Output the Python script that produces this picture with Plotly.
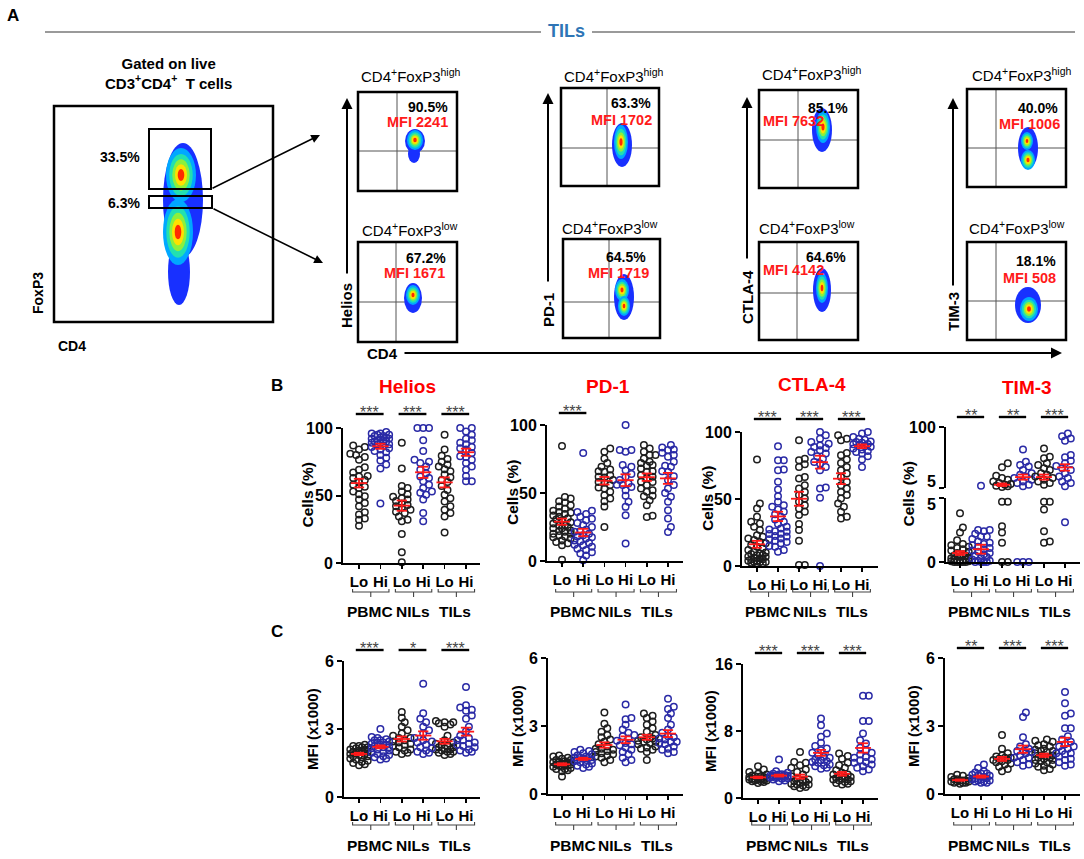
import numpy as np
import plotly.graph_objects as go

W, H = 1084, 859
FONT = "Arial, 'Liberation Sans', sans-serif"
RED = "#ff1a1a"
BLUE_DOT = "#2a2aa6"
BLACK_DOT = "#1e1e1e"

def fx(x):
    return x / W

def fy(y):
    return 1 - y / H

# ---------------- data ----------------
categories = ["Lo", "Hi", "Lo", "Hi", "Lo", "Hi"]
sites = ["PBMC", "NILs", "TILs"]
markers = ["Helios", "PD-1", "CTLA-4", "TIM-3"]

# Panel B: Cells (%), order = PBMC Lo, PBMC Hi, NILs Lo, NILs Hi, TILs Lo, TILs Hi
helios_pct = [
    [87, 86, 84, 81, 80, 78.5, 76.5, 71, 69, 67, 64.5, 64, 63, 61.5, 60, 58, 56.5, 55.5, 53, 51, 49.5, 47, 44.5, 42, 37.5, 36, 33, 32, 27.5],
    [97, 96, 96, 95, 95, 94, 94, 93, 93, 92, 92, 91, 91, 90, 90, 89, 89, 88, 88, 87, 86, 85, 84, 83, 82, 80, 78, 76, 73, 70, 44],
    [89, 70, 57, 55.5, 53, 51, 49, 48, 47, 46, 44, 43, 42, 41, 39.5, 38, 37, 34.5, 32, 31, 21.5, 8, 0.5],
    [100, 100, 100, 91, 83, 76.5, 75, 74, 71.5, 69, 66.5, 64, 63, 60.5, 58, 55.5, 53, 52, 50.5, 47, 37, 31],
    [95, 84, 79.5, 77, 75, 73, 71.5, 69.5, 68, 65.5, 63.5, 61.5, 60, 57, 54, 50.5, 48, 45.5, 42, 39.5, 37, 34.5, 22.5],
    [100, 100, 97.5, 95, 92, 91, 89, 88, 86, 85, 84, 81.5, 79, 78.5, 76.5, 74, 71.5, 69, 64.5, 60.5, 60.5],
]
pd1_pct = [
    [84.5, 47, 46, 44, 43, 41, 40, 38.5, 37, 36, 35.5, 34.5, 33.5, 32.5, 31.5, 30.5, 30, 28.5, 27.5, 26.5, 26, 25, 24, 24, 22.5, 22, 21.5, 20, 20, 19, 18, 17.5, 16.5, 15, 14, 13, 11.5, 1],
    [79.5, 37, 36, 34.5, 32.5, 31, 30, 28, 26.5, 25, 23, 22, 21.5, 20, 19, 18, 17.5, 16.5, 15, 14.5, 13.5, 12, 11.5, 10.5, 9, 8, 6.5, 5.5, 4, 0.5],
    [82.8, 80.3, 75.4, 72, 69.3, 67.3, 66, 65.6, 63.1, 62, 61.4, 59.5, 58, 57.5, 55.8, 54, 53.3, 50.9, 48.4, 46, 44, 40, 25],
    [100, 81.6, 81.6, 80.3, 70.5, 69.3, 66.8, 64, 62, 59.5, 57, 56, 55.8, 54.5, 52, 48, 43.5, 39.8, 33.7, 12.8],
    [85.3, 82.8, 80.3, 78, 78, 75.4, 73, 72, 70.5, 70, 68, 66, 65.6, 63, 62, 60.7, 58.2, 58, 55.8, 53.3, 52, 50.9, 48, 47.7, 44.7, 41, 33.2, 32.4],
    [85.3, 83.5, 82, 81.6, 79.6, 78, 76.7, 73, 70, 69.3, 66, 65.6, 62.4, 59.5, 55.8, 53.3, 50, 47.2, 43.5, 37.3, 31.2, 25, 21.4],
]
ctla4_pct = [
    [79.4, 46.7, 43, 36.7, 33, 31.8, 29.3, 26.8, 23, 21.8, 20.6, 19.4, 18, 16.9, 15.6, 14.4, 13.2, 11.9, 10.7, 10, 9.4, 9, 8.2, 8, 7, 6.9, 6, 5.7, 5, 5, 4, 4, 3.2, 3, 3, 2.5, 2, 2],
    [89.3, 78.9, 78.9, 72, 71.5, 62.8, 57, 52, 47.9, 45.4, 44.2, 42.2, 40.4, 38.7, 36.7, 34.7, 33, 31.3, 29.3, 28, 27.3, 26, 25.6, 24, 23.8, 22.3, 22, 20.6, 20, 18.9, 18, 16.9, 15, 14.4, 12, 10.7],
    [93.8, 80.1, 78.9, 75.9, 73.9, 66.5, 65.3, 60.3, 57.8, 55.3, 52.9, 50.4, 47.9, 45.4, 42.9, 40.4, 38, 31.3, 26.8, 18.9, 0.7, 0.7],
    [100, 97.5, 95, 92.6, 91.3, 90, 88.8, 88, 86.4, 85, 83.9, 81.9, 80.1, 77.7, 76.4, 73.9, 71.5, 58.6, 57.8, 50.9, 0],
    [97.5, 95, 93.8, 84.4, 82.6, 79.4, 76.9, 73.9, 71.5, 69, 66.5, 62.8, 60.3, 57.8, 55.3, 52.9, 50.4, 46.7, 44.2, 40.4, 36.7, 35.5],
    [100, 98.8, 96.3, 95, 94.3, 93, 92.6, 92, 91, 90.8, 90, 89.3, 89, 87.6, 87, 85.9, 85, 83.9, 81.9, 79.4, 73.9],
]
tim3_pct = [
    [3.8, 2.7, 2.3, 1.7, 1.4, 1.3, 1.2, 1.1, 1.0, 0.9, 0.8, 0.7, 0.6, 0.5, 0.5, 0.4, 0.3, 0.3, 0.2, 0.2, 0.1, 0.1, 0.1, 0.05, 0.05, 0, 0, 0, 0, 0],
    [8.6, 2.5, 2.5, 2.4, 2.2, 2.0, 2.0, 1.8, 1.6, 1.5, 1.4, 1.3, 1.2, 1.1, 1.0, 0.9, 0.8, 0.7, 0.6, 0.5, 0.4, 0.3, 0.2, 0.1, 0.1, 0, 0, 0, 0],
    [43.5, 37.4, 24, 20.4, 17.8, 15.3, 12.7, 11.2, 10.1, 8.6, 7.6, 6.5, 4.7, 4.7, 2.8, 2.3, 1.5, 0, 0],
    [65, 46, 41, 38.4, 33, 28, 25.5, 23, 20.4, 17.8, 15.3, 12.7, 10.1, 7.6, 0, 0, 0],
    [66.6, 53.8, 51.2, 43.5, 41, 35.8, 33, 28, 25.5, 23, 20.4, 17.8, 15.3, 12.7, 10.1, 4.7, 4.7, 4.1, 2.4, 1.6, 1.5],
    [89.7, 85.6, 82, 78.4, 56.4, 52.8, 47.6, 43.5, 39.4, 35.8, 33, 28, 23, 20.4, 15.3, 12.7, 7.6, 3.1],
]
# mean / SEM of the broken-axis TIM-3 panel
tim3_pct_mean = [0.7, 1.0, 10.1, 22, 22, 37]
tim3_pct_sem = [0.15, 0.35, 2, 4, 4, 5]

# Panel C: MFI (x1000)
helios_mfi = [
    [2.3, 2.25, 2.2, 2.2, 2.15, 2.1, 2.1, 2.05, 2.0, 2.0, 1.95, 1.9, 1.9, 1.85, 1.8, 1.8, 1.75, 1.7, 1.65, 1.6, 1.55, 1.5, 1.45, 1.4, 2.25, 2.0],
    [3.0, 2.65, 2.55, 2.5, 2.45, 2.4, 2.4, 2.35, 2.3, 2.3, 2.25, 2.2, 2.2, 2.15, 2.1, 2.05, 2.0, 1.95, 1.9, 1.85, 1.8, 1.75, 1.7, 1.65, 2.6, 2.5],
    [3.75, 3.5, 3.3, 3.1, 2.95, 2.8, 2.7, 2.6, 2.5, 2.45, 2.4, 2.3, 2.25, 2.2, 2.1, 2.05, 2.0, 1.95, 1.9, 2.6, 2.35],
    [5.0, 3.7, 3.45, 3.3, 3.1, 2.95, 2.8, 2.6, 2.5, 2.45, 2.3, 2.2, 2.15, 2.05, 2.0, 1.95, 1.9, 2.4],
    [3.35, 3.3, 3.3, 3.25, 3.2, 3.1, 2.7, 2.5, 2.4, 2.35, 2.3, 2.25, 2.2, 2.15, 2.1, 2.05, 2.0, 1.95, 1.9, 1.85, 2.2, 2.1, 2.0],
    [4.85, 4.05, 3.95, 3.85, 3.8, 3.6, 3.45, 3.1, 2.9, 2.7, 2.6, 2.5, 2.4, 2.35, 2.3, 2.25, 2.2, 2.1, 2.05, 2.0, 1.95, 2.5],
]
pd1_mfi = [
    [1.7, 1.65, 1.6, 1.55, 1.5, 1.5, 1.45, 1.4, 1.4, 1.35, 1.3, 1.3, 1.25, 1.2, 1.2, 1.15, 1.1, 1.1, 1.05, 1.0, 0.77, 1.3, 1.4, 1.25],
    [1.95, 1.9, 1.85, 1.8, 1.75, 1.7, 1.65, 1.6, 1.6, 1.55, 1.5, 1.5, 1.45, 1.4, 1.35, 1.3, 1.25, 1.2, 1.15, 1.6, 1.5],
    [3.6, 3.1, 2.9, 2.75, 2.6, 2.5, 2.4, 2.3, 2.2, 2.1, 2.0, 1.95, 1.9, 1.8, 1.75, 1.7, 1.6, 1.5, 1.4, 1.65, 2.0, 1.85],
    [3.95, 3.35, 3.3, 3.05, 2.85, 2.7, 2.55, 2.45, 2.35, 2.25, 2.15, 2.05, 1.95, 1.85, 1.75, 1.6, 1.5, 1.4, 2.6, 2.2],
    [3.55, 3.45, 3.35, 3.2, 3.05, 2.9, 2.75, 2.6, 2.5, 2.45, 2.4, 2.35, 2.3, 2.25, 2.2, 2.1, 2.05, 2.0, 1.95, 1.85, 1.5, 2.5, 2.3],
    [4.2, 3.85, 3.75, 3.55, 3.35, 3.05, 2.85, 2.7, 2.55, 2.45, 2.4, 2.3, 2.25, 2.2, 2.1, 2.0, 1.95, 1.85, 1.8, 2.5, 2.3],
]
ctla4_mfi = [
    [3.8, 3.4, 3.1, 2.9, 2.8, 2.7, 2.6, 2.5, 2.5, 2.4, 2.4, 2.3, 2.3, 2.2, 2.2, 2.1, 2.1, 2.0, 2.0, 1.9, 1.8, 2.6, 2.3, 2.2],
    [4.6, 3.2, 3.0, 2.9, 2.85, 2.8, 2.75, 2.7, 2.65, 2.6, 2.55, 2.5, 2.45, 2.4, 2.35, 2.3, 2.2, 2.1, 2.0, 2.7, 2.6],
    [5.5, 4.3, 4.2, 3.9, 3.6, 3.4, 3.1, 2.8, 2.6, 2.4, 2.2, 2.0, 1.8, 1.7, 1.6, 1.5, 1.4, 1.3, 1.2, 1.6, 1.9, 2.1],
    [9.5, 8.7, 7.7, 7.3, 6.6, 6.2, 5.9, 5.7, 5.4, 5.1, 4.8, 4.6, 4.5, 4.3, 4.2, 4.0, 3.9, 3.8, 3.6, 3.5, 4.9, 4.4],
    [5.3, 5.0, 4.7, 4.2, 3.9, 3.6, 3.3, 3.0, 2.8, 2.6, 2.5, 2.4, 2.3, 2.2, 2.1, 2.0, 1.9, 1.8, 1.7, 1.6, 2.5, 2.2, 2.8],
    [12.2, 12.2, 9.2, 9.2, 7.7, 6.9, 6.5, 6.0, 5.7, 5.4, 5.2, 4.8, 4.6, 4.5, 4.2, 4.0, 3.8, 3.6, 3.4, 3.2, 4.9, 4.3],
]
tim3_mfi = [
    [0.85, 0.8, 0.75, 0.7, 0.65, 0.6, 0.6, 0.55, 0.55, 0.5, 0.5, 0.5, 0.55, 0.6, 0.65, 0.45],
    [1.3, 1.15, 1.0, 0.95, 0.9, 0.85, 0.8, 0.8, 0.75, 0.7, 0.7, 0.65, 0.6, 0.6, 0.55, 0.5, 0.5, 0.9, 0.65, 0.55],
    [2.6, 2.0, 1.8, 1.7, 1.65, 1.6, 1.55, 1.5, 1.45, 1.4, 1.35, 1.3, 1.2, 1.1, 1.0, 1.5, 1.6],
    [3.6, 3.4, 2.5, 2.2, 2.1, 2.0, 1.9, 1.85, 1.8, 1.7, 1.6, 1.5, 1.4, 1.3, 1.25, 1.9, 1.6],
    [2.4, 2.35, 2.3, 2.2, 2.15, 2.1, 2.0, 1.95, 1.9, 1.85, 1.8, 1.7, 1.65, 1.6, 1.55, 1.5, 1.45, 1.4, 1.35, 1.3, 1.25, 1.2, 1.1, 1.05, 1.7, 1.6, 1.9, 1.5],
    [4.5, 4.0, 3.55, 3.45, 2.9, 2.9, 2.55, 2.4, 2.3, 2.2, 2.1, 2.0, 1.9, 1.8, 1.75, 1.65, 1.55, 1.5, 1.4, 1.3, 1.25, 1.8, 2.1],
]

sig_pct = [["***", "***", "***"], ["***", "", ""], ["***", "***", "***"], ["**", "**", "***"]]
sig_mfi = [["***", "*", "***"], ["", "", ""], ["***", "***", "***"], ["**", "***", "***"]]

# flow panel (A) texts
gate_pct = ["33.5%", "6.3%"]
flow_pct_high = ["90.5%", "63.3%", "85.1%", "40.0%"]
flow_mfi_high = ["MFI 2241", "MFI 1702", "MFI 7632", "MFI 1006"]
flow_pct_low = ["67.2%", "64.5%", "64.6%", "18.1%"]
flow_mfi_low = ["MFI 1671", "MFI 1719", "MFI 4142", "MFI 508"]

# ---------------- helpers ----------------
fig = go.Figure()
shapes = []
annos = []
layout_axes = {}


def seg(x0, y0, x1, y1, color="black", width=2, xref="paper"):
    if xref == "paper":
        x0, x1 = fx(x0), fx(x1)
    shapes.append(dict(type="line", xref=xref, yref="paper", x0=x0, x1=x1,
                       y0=fy(y0), y1=fy(y1), line=dict(color=color, width=width)))


def rect(x0, y0, x1, y1, width=2.5):
    shapes.append(dict(type="rect", xref="paper", yref="paper", x0=fx(x0), x1=fx(x1),
                       y0=fy(y1), y1=fy(y0), line=dict(color="black", width=width),
                       fillcolor="rgba(0,0,0,0)"))


def ellipse(cx, cy, rx, ry, color):
    shapes.append(dict(type="circle", xref="paper", yref="paper", x0=fx(cx - rx), x1=fx(cx + rx),
                       y0=fy(cy + ry), y1=fy(cy - ry), fillcolor=color, line=dict(width=0)))


def text(x, y, s, size=14, color="black", xanchor="center", yanchor="middle", angle=0, xref="paper"):
    annos.append(dict(x=fx(x) if xref == "paper" else x, y=fy(y), xref=xref, yref="paper",
                      text=s, showarrow=False, textangle=angle, xanchor=xanchor, yanchor=yanchor,
                      font=dict(family=FONT, size=size, color=color)))


def arrow(tx, ty, hx, hy, width=2):
    annos.append(dict(x=fx(hx), y=fy(hy), xref="paper", yref="paper", ax=tx - hx, ay=ty - hy,
                      axref="pixel", ayref="pixel", text="", showarrow=True, arrowhead=2,
                      arrowsize=1.1, arrowwidth=width, arrowcolor="black"))


JET = ["#1830ff", "#00a8ff", "#22e0b0", "#8cf03c", "#ffe000", "#ff2a00"]


def blob(outer, peaks):
    for (cx, cy, rx, ry) in outer:
        ellipse(cx, cy, rx, ry, JET[0])
    for (cx, cy, rx, ry) in peaks:
        for j, f in enumerate([1.0, 0.78, 0.58, 0.4, 0.22]):
            ellipse(cx, cy, rx * f, ry * f, JET[j + 1])


def swarm_offsets(ypx, step=2.9, mind=5.2, kmax=3):
    n = len(ypx)
    order = sorted(range(n), key=lambda i: -ypx[i])
    placed = []
    offs = [0.0] * n
    cands = [0]
    for k in range(1, kmax + 1):
        cands += [k, -k]
    for i in order:
        y = ypx[i]
        best, bestd = 0.0, -1.0
        for k in cands:
            xo = k * step
            d = min((np.hypot(xo - a, y - b) for a, b in placed), default=1e9)
            if d >= mind:
                best, bestd = xo, d
                break
            if d > bestd:
                best, bestd = xo, d
        placed.append((best, y))
        offs[i] = best
    return offs


# ---------------- panel A ----------------
text(13, 16, "<b>A</b>", size=17)
seg(45, 32, 541, 32, color="#9a9a9a", width=2)
seg(592, 32, 1075, 32, color="#9a9a9a", width=2)
text(566, 31, "<b>TILs</b>", size=18, color="#2e75b6")

text(168, 73, "<b>Gated on live<br>CD3<sup>+</sup>CD4<sup>+</sup>  T cells</b>", size=15)
rect(54, 106, 273, 322, width=2.5)
blob([(183, 200, 20, 57), (179, 272, 11, 33)], [(181, 175, 15, 27), (178, 232, 15, 33)])
rect(149, 129, 211, 189, width=2)
rect(149, 196, 212, 208, width=2)
text(142, 157, "<b>%s</b>" % gate_pct[0], size=14, xanchor="right")
text(142, 203, "<b>%s</b>" % gate_pct[1], size=14, xanchor="right")
text(38, 293, "<b>FoxP3</b>", size=14, angle=-90)
text(72, 346, "<b>CD4</b>", size=14)
arrow(211, 189, 320, 135, width=1.6)
arrow(212, 208, 323, 263, width=1.6)

flow_boxes_high = [(358, 92, 457, 191, 397, 151), (561, 88, 659, 186, 607, 148),
                   (759, 90, 858, 188, 798, 140), (967, 89, 1066, 187, 996, 148)]
flow_boxes_low = [(358, 242, 457, 342, 396, 302), (563, 239, 660, 338, 609, 302),
                  (759, 242, 858, 340, 797, 293), (967, 242, 1066, 340, 996, 301)]
for (x0, y0, x1, y1, cx, cy) in flow_boxes_high + flow_boxes_low:
    seg(cx, y0, cx, y1, color="#555555", width=1)
    seg(x0, cy, x1, cy, color="#555555", width=1)
    rect(x0, y0, x1, y1, width=2.5)

blob([(415, 141, 10, 12), (414, 154, 6, 9)], [(415, 140, 8, 10)])
blob([(413, 298, 9, 15)], [(413, 295, 7, 10)])
blob([(622, 145, 10, 22)], [(621, 142, 7, 17)])
blob([(624, 297, 10, 23)], [(622, 290, 7, 11), (624, 306, 6, 10)])
blob([(822, 130, 10, 22)], [(823, 127, 7, 16)])
blob([(822, 290, 9, 22)], [(822, 288, 6, 15)])
blob([(1028, 148, 10, 21)], [(1027, 141, 6, 9), (1028, 160, 7, 10)])
blob([(1028, 305, 13, 18)], [(1029, 309, 9, 12)])

title_high = [(411, 76), (614, 76), (812, 74), (1022, 75)]
title_low = [(410, 229), (610, 227), (807, 227), (1017, 227)]
for (x, y) in title_high:
    text(x, y, "CD4<sup>+</sup>FoxP3<sup>high</sup>", size=15)
for (x, y) in title_low:
    text(x, y, "CD4<sup>+</sup>FoxP3<sup>low</sup>", size=15)

pct_pos_high = [(450, 107, "right"), (653, 103, "right"), (828, 108, "center"), (1060, 108, "right")]
mfi_pos_high = [(450, 122, "right"), (654, 120, "right"), (793, 121, "center"), (1062, 124, "right")]
pct_pos_low = [(448, 258, "right"), (648, 257, "right"), (826, 257, "center"), (1058, 261, "right")]
mfi_pos_low = [(447, 273, "right"), (651, 273, "right"), (793, 270, "center"), (1058, 278, "right")]
for i in range(4):
    x, y, a = pct_pos_high[i]
    text(x, y, "<b>%s</b>" % flow_pct_high[i], size=14, xanchor=a)
    x, y, a = mfi_pos_high[i]
    text(x, y, "<b>%s</b>" % flow_mfi_high[i], size=14.5, color=RED, xanchor=a)
    x, y, a = pct_pos_low[i]
    text(x, y, "<b>%s</b>" % flow_pct_low[i], size=14, xanchor=a)
    x, y, a = mfi_pos_low[i]
    text(x, y, "<b>%s</b>" % flow_mfi_low[i], size=14.5, color=RED, xanchor=a)

# flow axes arrows + labels
for (ax_x, y_bot, y_head) in [(347, 275, 98), (548, 283, 93), (747, 260, 97), (953, 287, 98)]:
    arrow(ax_x, y_bot, ax_x, y_head, width=2)
for (ax_x, lab_y, lab) in [(346, 306, "Helios"), (548, 310, "PD-1"), (747, 297, "CTLA-4"), (953, 312, "TIM-3")]:
    text(ax_x, lab_y, "<b>%s</b>" % lab, size=15, angle=-90)
arrow(403, 353, 1062, 353, width=2)
text(382, 353, "<b>CD4</b>", size=15)

# ---------------- panels B and C ----------------
text(277, 386, "<b>B</b>", size=17)
text(277, 631, "<b>C</b>", size=17)

B_geom = [
    dict(x0=343, x1=480, c0=359, sp=21.4, ytop=428, ybot=563, bar=414, ylab=307, title=(407, 387)),
    dict(x0=547, x1=683, c0=562, sp=21.2, ytop=425, ybot=561, bar=413, ylab=512, title=(608, 387)),
    dict(x0=742, x1=878, c0=757, sp=21.0, ytop=432, ybot=566, bar=419, ylab=707, title=(812, 385)),
    dict(x0=946, x1=1080, c0=960, sp=21.0, ytop=427, ybot=562, bar=417, ylab=908, title=(1027, 388)),
]
C_geom = [
    dict(x0=344, x1=480, c0=359, sp=21.4, ytop=661, ybot=797, bar=650, ylab=312),
    dict(x0=548, x1=683, c0=562, sp=21.2, ytop=658, ybot=794, bar=650, ylab=517),
    dict(x0=743, x1=878, c0=758, sp=21.0, ytop=664, ybot=798, bar=653, ylab=710),
    dict(x0=945, x1=1080, c0=960, sp=21.0, ytop=658, ybot=794, bar=648, ylab=913),
]
pct_data = [helios_pct, pd1_pct, ctla4_pct, tim3_pct]
mfi_data = [helios_mfi, pd1_mfi, ctla4_mfi, tim3_mfi]
mfi_max = [6, 6, 16, 6]


def xaxis_cfg(g, anchor):
    return dict(domain=[fx(g["x0"]), fx(g["x1"])],
                range=[(g["x0"] - g["c0"]) / g["sp"], (g["x1"] - g["c0"]) / g["sp"]],
                anchor=anchor, showline=True, linecolor="black", linewidth=2,
                ticks="outside", ticklen=4, tickwidth=1.5, tickcolor="black",
                tickmode="array", tickvals=list(range(6)), ticktext=categories,
                tickfont=dict(family=FONT, size=15, color="black", weight="bold"),
                showgrid=False, zeroline=False, automargin=False)


def yaxis_cfg(ytop, ybot, rng, tickvals, anchor, ticktext=None):
    d = dict(domain=[fy(ybot), fy(ytop)], range=rng, anchor=anchor,
             showline=True, linecolor="black", linewidth=2, ticks="outside",
             ticklen=5, tickwidth=2, tickcolor="black", tickmode="array", tickvals=tickvals,
             tickfont=dict(family=FONT, size=16, color="black", weight="bold"),
             showgrid=False, zeroline=False, automargin=False)
    if ticktext is not None:
        d["ticktext"] = ticktext
    return d


def add_points(k, groups, ypx_fun, sp, yaxis_fun):
    axes = {}
    for i, vals in enumerate(groups):
        offs = swarm_offsets([ypx_fun(v) for v in vals])
        for v, o in zip(vals, offs):
            key = (i % 2, yaxis_fun(v))
            axes.setdefault(key, ([], []))
            axes[key][0].append(i + o / sp)
            axes[key][1].append(v)
    for (hi, ya), (xx, yy) in axes.items():
        fig.add_trace(go.Scatter(x=xx, y=yy, xaxis="x%d" % k, yaxis=ya, mode="markers",
                                 cliponaxis=False, hoverinfo="skip",
                                 marker=dict(symbol="circle-open", size=6.5,
                                             color=BLUE_DOT if hi else BLACK_DOT,
                                             line=dict(width=1.5))))


def add_mean(k, ya, idx, means, sems):
    xx, yy = [], []
    for i, m, s in zip(idx, means, sems):
        xx += [i - 0.38, i + 0.38, None, i, i, None, i - 0.24, i + 0.24, None, i - 0.24, i + 0.24, None]
        yy += [m, m, None, m - s, m + s, None, m - s, m - s, None, m + s, m + s, None]
    fig.add_trace(go.Scatter(x=xx, y=yy, xaxis="x%d" % k, yaxis=ya, mode="lines",
                             cliponaxis=False, hoverinfo="skip",
                             line=dict(color=RED, width=1.8)))


def add_decor(k, g, sig, bracket_y, label_y, ylabel, ylabel_size):
    xref = "x%d" % k
    for gi in range(3):
        if sig[gi]:
            seg(2 * gi - 0.15, g["bar"], 2 * gi + 1.15, g["bar"], width=2.4, xref=xref)
            text(2 * gi + 0.5, g["bar"] - 12, sig[gi], size=16, color="#444444",
                 yanchor="top", xref=xref)
        c = 2 * gi + 0.55
        xa, xb = c - 0.85, c + 0.85
        path = "M %f,%f L %f,%f L %f,%f L %f,%f M %f,%f L %f,%f" % (
            xa, fy(bracket_y - 3), xa, fy(bracket_y), xb, fy(bracket_y), xb, fy(bracket_y - 3),
            c, fy(bracket_y), c, fy(bracket_y + 5))
        shapes.append(dict(type="path", xref=xref, yref="paper", path=path,
                           line=dict(color="#444444", width=1.1)))
        text(2 * gi + 0.5, label_y, "<b>%s</b>" % sites[gi], size=15.5, xref=xref)
    text(g["ylab"], (g["ytop"] + g["ybot"]) / 2, "<b>%s</b>" % ylabel, size=ylabel_size, angle=-90)


# panel B
for p in range(4):
    k = p + 1
    g = B_geom[p]
    layout_axes["xaxis%d" % k] = xaxis_cfg(g, "y%d" % k)
    text(g["title"][0], g["title"][1], "<b>%s</b>" % markers[p], size=19, color="#ff0000")
    data = pct_data[p]
    if p < 3:
        layout_axes["yaxis%d" % k] = yaxis_cfg(g["ytop"], g["ybot"], [0, 100], [0, 50, 100], "x%d" % k)
        f = (lambda g: (lambda v: g["ybot"] - v / 100 * (g["ybot"] - g["ytop"])))(g)
        add_points(k, data, f, g["sp"], lambda v, k=k: "y%d" % k)
        means = [float(np.mean(v)) for v in data]
        sems = [float(np.std(v, ddof=1) / np.sqrt(len(v))) for v in data]
        add_mean(k, "y%d" % k, range(6), means, sems)
    else:
        # broken axis: lower 0-5, upper 5-100
        layout_axes["yaxis%d" % k] = yaxis_cfg(498, 562, [0, 5], [0, 5], "x%d" % k, ["0", ""])
        layout_axes["yaxis9"] = yaxis_cfg(427, 488, [5, 100], [5, 100], "x%d" % k, ["", "100"])
        text(g["x0"] - 8, 481, "<b>5</b>", size=16, xanchor="right")
        text(g["x0"] - 8, 505, "<b>5</b>", size=16, xanchor="right")

        def f(v):
            if v > 5:
                return 488 - (v - 5) / 95 * 61
            return 562 - v / 5 * 64
        add_points(k, data, f, g["sp"], lambda v, k=k: "y9" if v > 5 else "y%d" % k)
        lo_idx = [i for i in range(6) if tim3_pct_mean[i] <= 5]
        hi_idx = [i for i in range(6) if tim3_pct_mean[i] > 5]
        add_mean(k, "y%d" % k, lo_idx, [tim3_pct_mean[i] for i in lo_idx], [tim3_pct_sem[i] for i in lo_idx])
        add_mean(k, "y9", hi_idx, [tim3_pct_mean[i] for i in hi_idx], [tim3_pct_sem[i] for i in hi_idx])
    add_decor(k, g, sig_pct[p], 592, 611, "Cells (%)", 15.5)

# panel C
for p in range(4):
    k = p + 5
    g = C_geom[p]
    ymax = mfi_max[p]
    layout_axes["xaxis%d" % k] = xaxis_cfg(g, "y%d" % k)
    layout_axes["yaxis%d" % k] = yaxis_cfg(g["ytop"], g["ybot"], [0, ymax], [0, ymax / 2, ymax], "x%d" % k)
    data = mfi_data[p]
    f = (lambda g, ymax: (lambda v: g["ybot"] - v / ymax * (g["ybot"] - g["ytop"])))(g, ymax)
    add_points(k, data, f, g["sp"], lambda v, k=k: "y%d" % k)
    means = [float(np.mean(v)) for v in data]
    sems = [float(np.std(v, ddof=1) / np.sqrt(len(v))) for v in data]
    add_mean(k, "y%d" % k, range(6), means, sems)
    add_decor(k, g, sig_mfi[p], 825, 845, "MFI (x1000)", 15)

fig.update_layout(template="none", width=W, height=H, margin=dict(l=0, r=0, t=0, b=0, pad=0),
                  autosize=False, paper_bgcolor="white", plot_bgcolor="white", showlegend=False,
                  font=dict(family=FONT, color="black"),
                  shapes=shapes, annotations=annos, **layout_axes)
fig.write_html("out.html", config={"displayModeBar": False, "staticPlot": True},
               post_script="document.body.style.margin='0';document.body.style.padding='0';"
                           "document.body.style.overflow='hidden';")
